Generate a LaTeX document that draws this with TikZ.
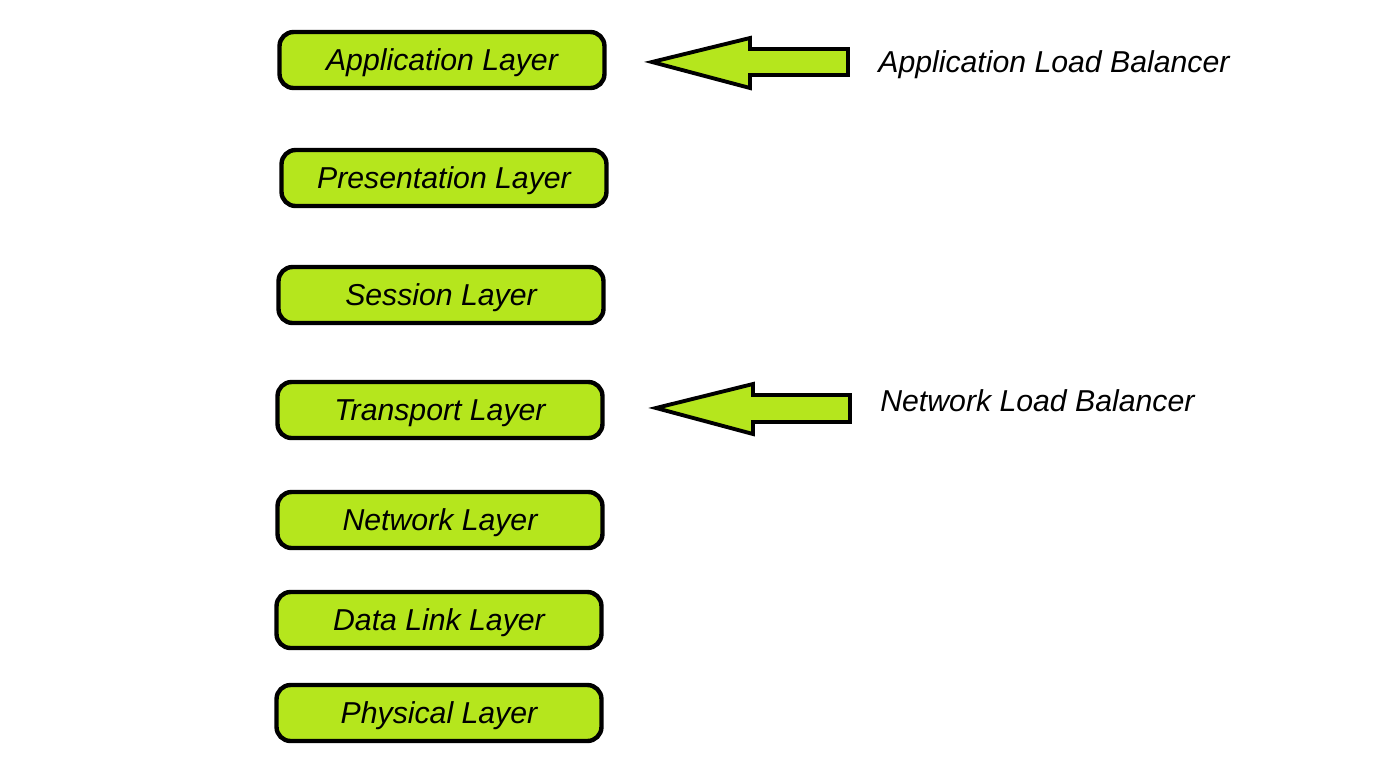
\documentclass[tikz,border=0pt]{standalone}
\usepackage{fontspec}
\setmainfont{Liberation Sans}
\definecolor{lime}{HTML}{B5E61D}

\begin{document}
\begin{tikzpicture}[x=0.02cm, y=-0.02cm]
    \tikzset{layer/.style={draw, line width=2.5pt, fill=lime, rounded corners=8pt,
        minimum width=6.5cm, minimum height=1.12cm, inner sep=0pt,
        text height=14pt, text depth=1.8pt,
        font=\fontsize{17.2}{20}\selectfont\itshape}}
    \tikzset{lbname/.style={anchor=west, inner sep=0pt,
        font=\fontsize{17.2}{20}\selectfont\itshape}}
    \tikzset{blockarrow/.style={draw, line width=2.2pt, fill=lime, line join=miter}}
    \useasboundingbox (0,0) rectangle (1400,762);
    % the seven layers
    \node[layer] (app) at (442,60) {Application Layer};
    \node[layer] (pres) at (444,178) {Presentation Layer};
    \node[layer] (sess) at (441,295) {Session Layer};
    \node[layer] (trans) at (440,410) {Transport Layer};
    \node[layer] (net) at (440,520) {Network Layer};
    \node[layer] (link) at (439,620) {Data Link Layer};
    \node[layer] (phys) at (439,713) {Physical Layer};
    % load balancers
    \node[lbname] (alb) at (878,65) {Application Load Balancer};
    \node[lbname] (nlb) at (880,401) {Network Load Balancer};
    \draw[blockarrow] (652,62) -- (750,38) -- (750,49) -- (848,49) -- (848,75)
        -- (750,75) -- (750,88) -- cycle;
    \draw[blockarrow] (656,408) -- (753,384) -- (753,395) -- (850,395) -- (850,422)
        -- (753,422) -- (753,434) -- cycle;
\end{tikzpicture}
\end{document}
